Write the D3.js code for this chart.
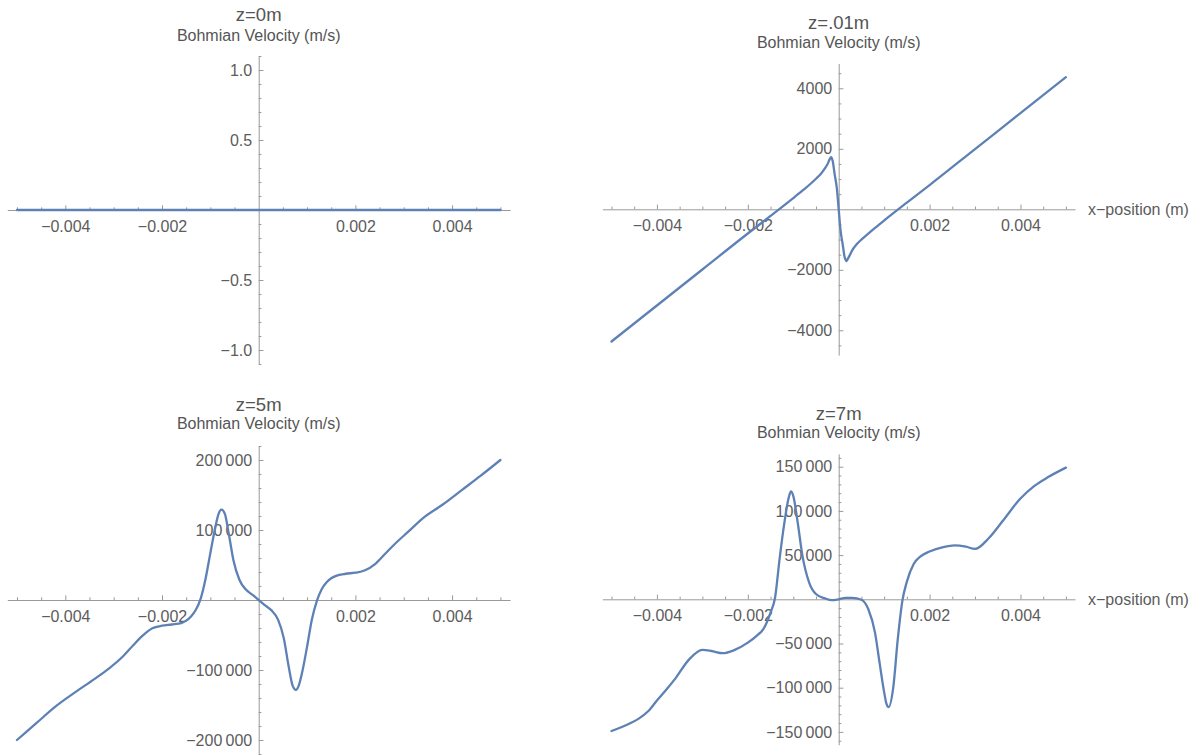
<!DOCTYPE html>
<html>
<head>
<meta charset="utf-8">
<script src="https://cdn.jsdelivr.net/npm/d3@7"></script>
<style>
  body { margin: 0; background: #fff; }
  svg { display: block; }
</style>
</head>
<body>
<svg id="chart" width="1202" height="756"></svg>
<script>
// ---- Data (positions in metres, velocities in m/s) ----
const titles = ["z=0m", "z=.01m", "z=5m", "z=7m"];
const yAxisTitle = "Bohmian Velocity (m/s)";
const xAxisTitle = "x\u2212position (m)";

const xMajorTicks = [-0.004, -0.002, 0.002, 0.004];
const xTickLabels = ["\u22120.004", "\u22120.002", "0.002", "0.004"];
const xMinorStep = [0.0005];

// z = 0 m
const z0X = [-0.005, 0.005];
const z0V = [0, 0];
const z0YTicks = [1.0, 0.5, -0.5, -1.0];
const z0YLabels = ["1.0", "0.5", "\u22120.5", "\u22121.0"];

// z = 0.01 m
const z01X = [-0.005, -0.004, -0.003, -0.002, -0.0015, -0.001, -0.0008, -0.0006, -0.0005, -0.0004,
  -0.0003, -0.00025, -0.0002, -0.00017, -0.00013, -0.00009, -0.00004, 0, 0.00004, 0.00009,
  0.00013, 0.00017, 0.0002, 0.00025, 0.0003, 0.0004, 0.0005, 0.0006, 0.0008, 0.001,
  0.0015, 0.002, 0.003, 0.004, 0.005];
const z01V = [-4370, -3180, -1990, -800, -220, 370, 615, 870, 1010, 1160,
  1360, 1480, 1650, 1720, 1580, 1170, 680, 0, -690, -1180,
  -1580, -1710, -1640, -1500, -1350, -1150, -1000, -870, -615, -370,
  220, 800, 1990, 3180, 4370];
const z01YTicks = [4000, 2000, -2000, -4000];
const z01YLabels = ["4000", "2000", "\u22122000", "\u22124000"];

// z = 5 m
const z5X = [-0.005, -0.0046, -0.0042, -0.0038, -0.0034, -0.0031, -0.0028, -0.0026, -0.0024, -0.0022,
  -0.002, -0.0018, -0.0016, -0.0015, -0.0014, -0.0013, -0.0012, -0.0011, -0.001, -0.0009, -0.00083,
  -0.00077, -0.0007, -0.00062, -0.00052, -0.0004, -0.00026, -0.00012, 0, 0.00012, 0.00026,
  0.0004, 0.00052, 0.00062, 0.0007, 0.00077, 0.00083, 0.0009, 0.001, 0.0011, 0.0012,
  0.0013, 0.0014, 0.0015, 0.0016, 0.0018, 0.002, 0.0022, 0.0024, 0.0026, 0.0028, 0.0031,
  0.0034, 0.0038, 0.0042, 0.0046, 0.005];
const z5V = [-200000, -176000, -152000, -132000, -113000, -98000, -80000, -65000, -51000, -40500,
  -36700, -35000, -33000, -29500, -23500, -14000, 2000, 30000, 67000, 103000, 123000,
  129000, 123000, 95000, 56000, 29000, 14500, 7000, 0, -7000, -14500,
  -28000, -55000, -95000, -122000, -128500, -122000, -103000, -67000, -28000, -2000,
  15000, 25000, 31000, 34500, 37500, 39000, 42500, 51000, 65000, 79000, 98000,
  117000, 136000, 157000, 178000, 200000];
const z5YTicks = [200000, 100000, -100000, -200000];
const z5YLabels = ["200\u2009000", "100\u2009000", "\u2212100\u2009000", "\u2212200\u2009000"];

// z = 7 m
const z7X = [-0.005, -0.0048, -0.0046, -0.0044, -0.0042, -0.004, -0.0038, -0.0036, -0.0033, -0.003, -0.0028, -0.00255, -0.0023,
  -0.002, -0.0018, -0.00165, -0.0015, -0.0014, -0.0013, -0.0012, -0.0011, -0.00105, -0.001,
  -0.0009, -0.0008, -0.00065, -0.0005, -0.0003, -0.00015, 0, 0.00015, 0.0003, 0.0005,
  0.00065, 0.0008, 0.0009, 0.001, 0.00105, 0.0011, 0.0012, 0.0013, 0.0014, 0.0015,
  0.00165, 0.0018, 0.002, 0.0023, 0.00255, 0.0028, 0.003, 0.0033, 0.0036, 0.004,
  0.0043, 0.0046, 0.005];
const z7V = [-149000, -145000, -140500, -135000, -127000, -114500, -102500, -90000, -68500, -57300, -58500, -61000, -57500,
  -49000, -41000, -33000, -15000, 2000, 46000, 85000, 115000, 122000, 117000,
  86000, 50000, 19000, 6000, 1000, -1000, 0, 1500, 1500, -500,
  -11000, -38000, -72000, -105000, -118000, -122000, -100000, -45000, -2000, 20000,
  40000, 48500, 54000, 59000, 61000, 59500, 57000, 69000, 88000, 114000,
  128000, 138000, 149000];
const z7YTicks = [150000, 100000, 50000, -50000, -100000, -150000];
const z7YLabels = ["150\u2009000", "100\u2009000", "50\u2009000", "\u221250\u2009000", "\u2212100\u2009000", "\u2212150\u2009000"];

// ---- Layout of the four panels ----
const xLimit = 0.0052;
const panels = [
  { title: titles[0], xs: z0X, vs: z0V, yTicks: z0YTicks, yLabels: z0YLabels, yMinor: 0.1, yLimit: 1.1,
    xRange: [7.3, 510.1], yRange: [364, 56], titleY: 20.7, subY: 40.5, xLabel: false },
  { title: titles[1], xs: z01X, vs: z01V, yTicks: z01YTicks, yLabels: z01YLabels, yMinor: 500, yLimit: 4820,
    xRange: [602.4, 1075], yRange: [355.1, 63.5], titleY: 29.3, subY: 48, xLabel: true },
  { title: titles[2], xs: z5X, vs: z5V, yTicks: z5YTicks, yLabels: z5YLabels, yMinor: 20000, yLimit: 220000,
    xRange: [7.3, 510.1], yRange: [754, 446], titleY: 410.7, subY: 429, xLabel: false },
  { title: titles[3], xs: z7X, vs: z7V, yTicks: z7YTicks, yLabels: z7YLabels, yMinor: 10000, yLimit: 164500,
    xRange: [602.4, 1075], yRange: [744.7, 453.9], titleY: 420, subY: 437.5, xLabel: true }
];

const FONT = "'Liberation Sans', Arial, sans-serif";
const AXIS_COLOR = "#999999";
const TEXT_COLOR = "#5c5c5c";
const LINE_COLOR = "#5e81b5";
const TICK_FONT = 16;

const svg = d3.select("#chart");

function minorValues(limit, step, majors) {
  const n = Math.floor(limit / step + 1e-9);
  return d3.range(-n, n + 1)
    .map(k => +(k * step).toPrecision(10))
    .filter(v => v !== 0 && !majors.some(m => Math.abs(m - v) < step * 1e-6));
}

function styleAxis(sel) {
  sel.attr("font-family", FONT).attr("font-size", TICK_FONT);
  sel.selectAll(".domain").attr("stroke", AXIS_COLOR).attr("stroke-width", 1);
  sel.selectAll(".tick line").attr("stroke", AXIS_COLOR).attr("stroke-width", 1);
  sel.selectAll(".tick text").attr("fill", TEXT_COLOR);
}

panels.forEach(p => {
  const x = d3.scaleLinear().domain([-xLimit, xLimit]).range(p.xRange);
  const y = d3.scaleLinear().domain([-p.yLimit, p.yLimit]).range(p.yRange);
  const g = svg.append("g");
  const x0 = x(0), y0 = y(0);

  // horizontal axis: minor ticks, then major ticks with labels
  const xMinorTicks = minorValues(0.005, xMinorStep[0], xMajorTicks.concat([0]));
  g.append("g")
    .attr("transform", `translate(0,${y0})`)
    .call(d3.axisBottom(x).tickValues(xMinorTicks).tickSize(-2.7).tickSizeOuter(0).tickFormat(""))
    .call(s => s.select(".domain").remove())
    .call(styleAxis);
  g.append("g")
    .attr("transform", `translate(0,${y0})`)
    .call(d3.axisBottom(x).tickValues(xMajorTicks).tickSize(-4.7).tickSizeOuter(0)
      .tickPadding(10.5).tickFormat((d, i) => xTickLabels[i]))
    .call(styleAxis);

  // vertical axis
  const yMinorTicks = minorValues(p.yLimit, p.yMinor, p.yTicks.concat([0]));
  g.append("g")
    .attr("transform", `translate(${x0},0)`)
    .call(d3.axisLeft(y).tickValues(yMinorTicks).tickSize(-2.7).tickSizeOuter(0).tickFormat(""))
    .call(s => s.select(".domain").remove())
    .call(styleAxis);
  g.append("g")
    .attr("transform", `translate(${x0},0)`)
    .call(d3.axisLeft(y).tickValues(p.yTicks).tickSize(-4.7).tickSizeOuter(0)
      .tickPadding(6.5).tickFormat((d, i) => p.yLabels[i]))
    .call(styleAxis);

  // titles
  g.append("text")
    .attr("x", x0).attr("y", p.titleY)
    .attr("text-anchor", "middle")
    .attr("font-family", FONT).attr("font-size", 18.5)
    .attr("fill", "#555555")
    .text(p.title);
  g.append("text")
    .attr("x", x0).attr("y", p.subY)
    .attr("text-anchor", "middle")
    .attr("font-family", FONT).attr("font-size", 16)
    .attr("fill", "#555555")
    .text(yAxisTitle);

  if (p.xLabel) {
    g.append("text")
      .attr("x", p.xRange[1] + 13).attr("y", y0)
      .attr("dy", "0.35em")
      .attr("font-family", FONT).attr("font-size", TICK_FONT)
      .attr("fill", TEXT_COLOR)
      .text(xAxisTitle);
  }

  // velocity curve
  const pts = p.xs.map((xv, i) => [xv, p.vs[i]]);
  const line = d3.line()
    .x(d => x(d[0]))
    .y(d => y(d[1]))
    .curve(d3.curveMonotoneX);
  g.append("path")
    .datum(pts)
    .attr("d", line)
    .attr("fill", "none")
    .attr("stroke", LINE_COLOR)
    .attr("stroke-width", 2.3)
    .attr("stroke-linejoin", "round")
    .attr("stroke-linecap", "round");
});
</script>
</body>
</html>
